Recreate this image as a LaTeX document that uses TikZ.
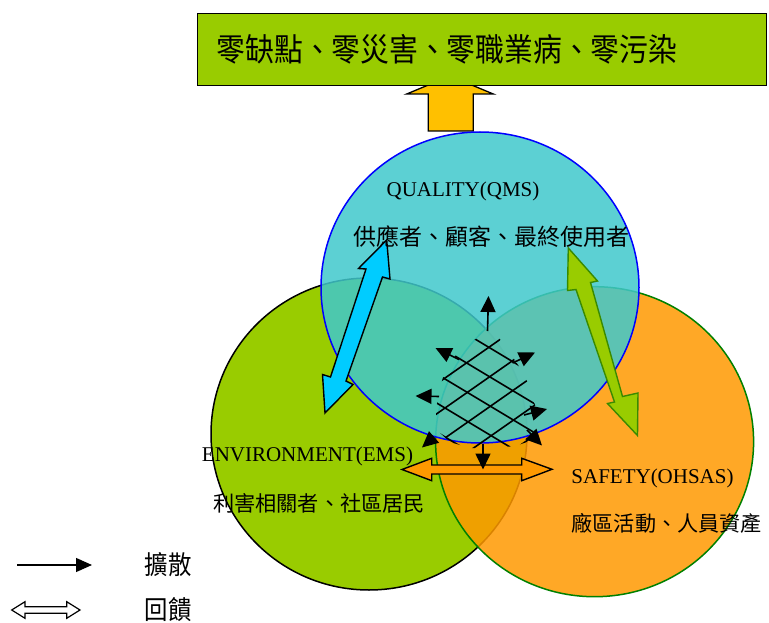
\documentclass[tikz,border=0pt]{standalone}
\usepackage{fontspec}
\setmainfont{Liberation Serif}
\newfontfamily\cjk{Noto Sans CJK TC}
\newfontfamily\cjktall[FakeStretch=0.9]{Noto Sans CJK TC}
\usetikzlibrary{arrows.meta}
\definecolor{qblue}{HTML}{40C8CC}
\definecolor{egreen}{HTML}{99CC00}
\definecolor{sorange}{HTML}{FF9900}
\definecolor{gold}{HTML}{FFC000}
\definecolor{cyanarrow}{HTML}{00CCFF}
\definecolor{darkgreen}{HTML}{3A8A00}
\definecolor{ringgreen}{HTML}{008000}
\definecolor{ringblue}{HTML}{0000FF}
\begin{document}
\begin{tikzpicture}[x=1pt,y=-1pt,
  spread/.style={line width=1.6pt,-{Triangle[length=16pt,width=15pt]}},
  hatchline/.style={line width=1.6pt},
  latin/.style={font=\fontsize{21}{21}\selectfont, inner sep=0pt},
  cjklab/.style={font=\cjk\fontsize{21.2}{22}\selectfont, inner sep=0pt},
  block/.style={draw=black, line width=1.3pt, line join=miter}]
\useasboundingbox (0,0) rectangle (769,623);
\fill[white] (0,0) rectangle (769,623);

% upward block arrow (partly hidden by the banner)
\draw[block, fill=gold] (428.3,131) -- (428.3,94) -- (406.7,94) -- (450,76) -- (493.3,94) -- (473.3,94) -- (473.3,131) -- cycle;

% banner
\node[draw=black, line width=1pt, fill=egreen, minimum width=569pt, minimum height=72pt, anchor=north west, inner sep=0pt] (banner) at (197,13) {};
\node[font=\cjktall\fontsize{32}{33}\selectfont, inner sep=0pt] (goal) at (447,49) {零缺點、零災害、零職業病、零污染};

% circles
\fill[egreen] (369,434) ellipse [x radius=158pt, y radius=156pt];
\draw[black, line width=1.5pt] (369,434) ellipse [x radius=158pt, y radius=156pt];
\fill[sorange, fill opacity=0.85] (594.6,441.7) ellipse [x radius=159pt, y radius=155pt];
\draw[ringgreen, line width=1.5pt] (594.6,441.7) ellipse [x radius=159pt, y radius=155pt];
\fill[qblue, fill opacity=0.85] (480,287.5) ellipse [x radius=159pt, y radius=155.5pt];
\draw[ringblue, line width=1.5pt] (480,287.5) ellipse [x radius=159pt, y radius=155.5pt];

% cyan feedback arrow
\draw[draw=black, line width=1.4pt, fill=cyanarrow, line join=miter]
  (386.7,240) -- (390,279) -- (382.5,277) -- (346,381) -- (353,384.5) -- (325,413)
  -- (322.5,374.5) -- (330.5,377) -- (366,269) -- (358.5,268.5) -- cycle;

% green feedback arrow
\draw[draw=darkgreen, line width=1.4pt, fill=egreen, line join=miter]
  (568.3,248) -- (597.5,281) -- (590.5,282.5) -- (622.5,396.5) -- (638,393) -- (637.5,435.5)
  -- (607.5,403.5) -- (614.5,402) -- (576,289.5) -- (567.5,290.5) -- cycle;

% hatched core
\begin{scope}
\clip (491,331) -- (470,342) -- (455,356) -- (445,372) -- (438,392) -- (436,415) -- (439,432)
  -- (450,442) -- (470,448) -- (495,448) -- (515,446) -- (530,441) -- (536,425) -- (535,405)
  -- (529,385) -- (520,368) -- (508,350) -- (499,338) -- cycle;
\foreach \k in {0,...,5}{
  \draw[hatchline] (365,{316+29*\k-72}) -- (605,{316+29*\k+72});
  \draw[hatchline] (365,{320+30*\k+84}) -- (605,{320+30*\k-84});
}
\end{scope}

% orange feedback arrow
\draw[draw=black, line width=1.4pt, fill=sorange, line join=miter]
  (402,469.5) -- (431.7,458.3) -- (431.7,465) -- (521.7,465) -- (521.7,458.3) -- (552,469.3)
  -- (521.7,480.7) -- (521.7,474) -- (431.7,474) -- (431.7,480.7) -- cycle;

% spreading arrows
\draw[spread] (487.5,331) coordinate (s1a) -- (488.5,296) coordinate (s1b);
\draw[spread] (459,359.5) coordinate (s2a) -- (435.5,348) coordinate (s2b);
\draw[spread] (512.5,363) coordinate (s3a) -- (535,352.5) coordinate (s3b);
\draw[spread] (439,396.5) coordinate (s4a) -- (415.5,396) coordinate (s4b);
\draw[spread] (524,415) coordinate (s5a) -- (547,409) coordinate (s5b);
\draw[spread] (434,437) coordinate (s6a) -- (422,447.5) coordinate (s6b);
\draw[spread] (527,430) coordinate (s7a) -- (542,445.5) coordinate (s7b);
\draw[spread] (483,444) coordinate (s8a) -- (483,469.5) coordinate (s8b);

% labels
\node[latin] (qms) at (463,191) {QUALITY(QMS)};
\node[cjklab, font=\cjk\fontsize{23}{24}\selectfont] (qmsx) at (491.5,237) {供應者、顧客、最終使用者};
\node[latin] (ems) at (307.5,456) {ENVIRONMENT(EMS)};
\node[cjklab] (emsx) at (319,503) {利害相關者、社區居民};
\node[latin] (ohs) at (652.5,478) {SAFETY(OHSAS)};
\node[cjklab, font=\cjk\fontsize{21.1}{22}\selectfont] (ohsx) at (666.7,523) {廠區活動、人員資產};

% legend
\coordinate (l1a) at (17,565);
\coordinate (l1b) at (92,565);
\draw[line width=1.2pt,-{Triangle[length=16pt,width=14pt]}] (l1a) -- (l1b);
\node[font=\cjktall\fontsize{26}{27}\selectfont, inner sep=0pt] (lg1) at (168,565) {擴散};
\draw[draw=black, line width=1.2pt, fill=white, line join=miter]
  (11.7,610) -- (25,601.7) -- (25,606.7) -- (66.7,606.7) -- (66.7,601.7) -- (80,610)
  -- (66.7,618.3) -- (66.7,613.3) -- (25,613.3) -- (25,618.3) -- cycle;
\node[font=\cjktall\fontsize{26}{27}\selectfont, inner sep=0pt] (lg2) at (168,610) {回饋};
\end{tikzpicture}
\end{document}
